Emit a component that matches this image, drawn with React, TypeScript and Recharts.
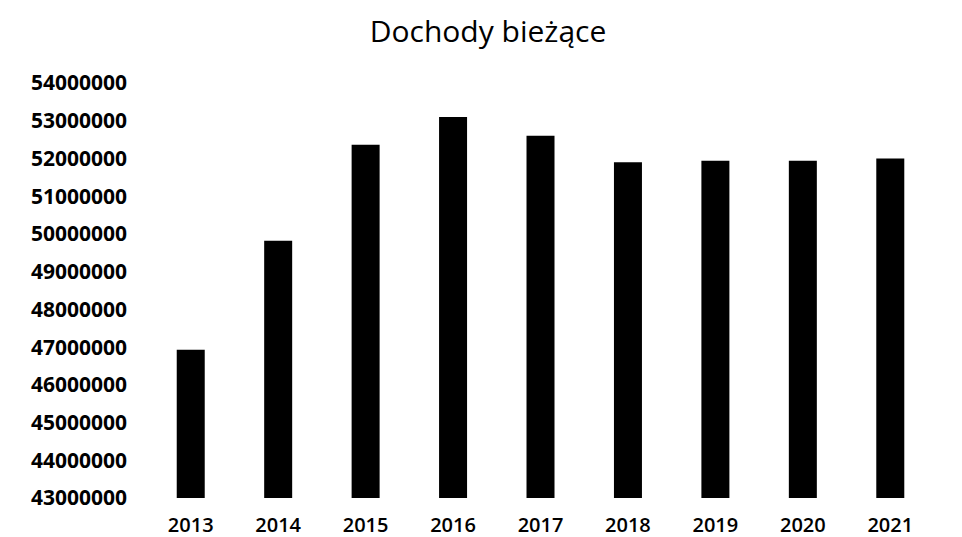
import { Bar, BarChart, XAxis, YAxis } from 'recharts'

const years = ['2013', '2014', '2015', '2016', '2017', '2018', '2019', '2020', '2021']
const income = [46930000, 49820000, 52360000, 53100000, 52600000, 51900000, 51940000, 51940000, 52000000]
const yTicks = [
  43000000, 44000000, 45000000, 46000000, 47000000, 48000000,
  49000000, 50000000, 51000000, 52000000, 53000000, 54000000,
]

const data = years.map((year, i) => ({ year, income: income[i] }))

export default function App() {
  return (
    <div style={{ position: 'absolute', left: 0, top: 0, width: 962, height: 537, background: '#fff' }}>
      <div
        style={{
          position: 'absolute',
          left: 0,
          top: 10,
          width: 976,
          textAlign: 'center',
          fontFamily: '"Open Sans", sans-serif',
          fontSize: 30,
          fontWeight: 500,
          color: '#000',
        }}
      >
        Dochody bieżące
      </div>
      <BarChart
        width={962}
        height={537}
        data={data}
        margin={{ top: 83, right: 28, left: 0, bottom: 0 }}
        barCategoryGap="34%"
      >
        <XAxis
          dataKey="year"
          axisLine={false}
          tickLine={false}
          tickSize={0}
          tickMargin={20}
          height={39}
          interval={0}
          tick={{ fill: '#000', fontSize: 20, fontWeight: 600, fontFamily: '"Open Sans", sans-serif' }}
        />
        <YAxis
          domain={[43000000, 54000000]}
          ticks={yTicks}
          interval={0}
          axisLine={false}
          tickLine={false}
          tickSize={0}
          tickMargin={20}
          width={147}
          allowDataOverflow
          tick={{ fill: '#000', fontSize: 21, fontWeight: 700, fontFamily: '"Open Sans", sans-serif' }}
        />
        <Bar dataKey="income" fill="#000" isAnimationActive={false} />
      </BarChart>
    </div>
  )
}
